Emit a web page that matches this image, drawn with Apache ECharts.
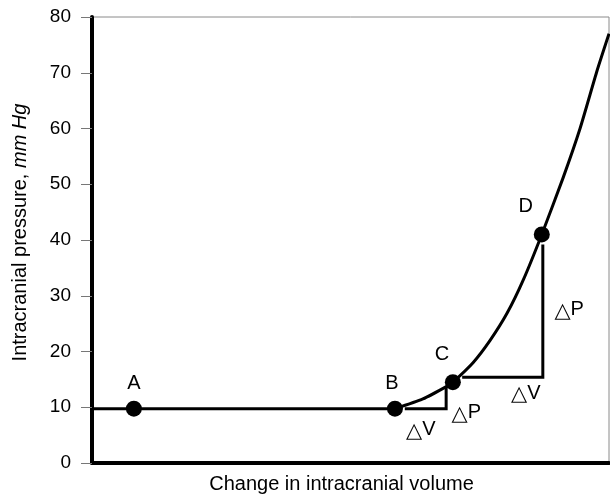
<!DOCTYPE html>
<html>
<head>
<meta charset="utf-8">
<script src="https://cdn.jsdelivr.net/npm/echarts@6/dist/echarts.min.js"></script>
<style>
  html, body { margin: 0; padding: 0; background: #fff; }
  #chart { width: 610px; height: 499px; }
</style>
</head>
<body>
<div id="chart"></div>
<script>
// Flat plateau of the pressure–volume relation (up to point B)
var plateauVolume   = [0, 58.6];
var plateauPressure = [9.75, 9.75];

// Accelerating rise from B upwards
var riseVolume   = [58.6, 64.0, 68.7, 69.8, 73.7, 77.0, 80.3, 83.4, 87.0, 91.1, 94.4, 97.7, 100];
var risePressure = [9.75, 11.5, 13.8, 14.5, 18.0, 22.0, 26.9, 32.8, 41.0, 51.1, 60.0, 70.4, 77.0];

// Labelled points on the curve
var pointNames    = ['A', 'B', 'C', 'D'];
var pointVolume   = [8.1, 58.6, 69.8, 87.0];
var pointPressure = [9.75, 9.75, 14.5, 41.0];

// Small ΔV/ΔP step between B and C
var smallStepVolume   = [60.5, 68.5, 68.5];
var smallStepPressure = [9.75, 9.75, 13.8];

// Large ΔV/ΔP step between C and D
var largeStepVolume   = [71.6, 87.2, 87.2];
var largeStepPressure = [15.4, 15.4, 39.2];

// Delta annotations: [volume, pressure, letter]
var deltaLabels = [
  [63.6, 6.0, 'V'],
  [72.4, 9.0, 'P'],
  [83.9, 12.5, 'V'],
  [92.3, 27.5, 'P']
];

var yTicks = [0, 10, 20, 30, 40, 50, 60, 70, 80];

function zip(xs, ys) {
  return xs.map(function (x, i) { return [x, ys[i]]; });
}

var fontFamily = '"Liberation Sans", Arial, Helvetica, sans-serif';

function pathSeries(xs, ys, smooth) {
  return {
    type: 'line',
    data: zip(xs, ys),
    smooth: smooth,
    showSymbol: false,
    lineStyle: { color: '#000', width: 3, cap: 'butt', join: 'miter' },
    z: 3
  };
}

var chart = echarts.init(document.getElementById('chart'), null, { renderer: 'canvas' });

chart.setOption({
  animation: false,
  backgroundColor: '#ffffff',
  textStyle: { fontFamily: fontFamily },
  grid: {
    left: 92, right: 1, top: 17, bottom: 31,
    show: true, borderColor: '#8a8a8a', borderWidth: 1
  },
  xAxis: {
    type: 'value', min: 0, max: 100,
    name: 'Change in intracranial volume',
    nameLocation: 'middle', nameGap: 11,
    nameTextStyle: { fontSize: 20, color: '#000', verticalAlign: 'top', padding: [0, 18, 0, 0] },
    axisLine: { show: true, onZero: false, lineStyle: { color: '#000', width: 4 } },
    axisTick: { show: false },
    axisLabel: { show: false },
    splitLine: { show: false }
  },
  yAxis: {
    type: 'value', min: yTicks[0], max: yTicks[yTicks.length - 1], interval: 10,
    name: '{n|Intracranial pressure, }{i|mm Hg}',
    nameLocation: 'middle', nameGap: 62, nameRotate: 90,
    nameTextStyle: {
      verticalAlign: 'bottom',
      padding: [0, 0, 0, 15],
      rich: {
        n: { fontSize: 20, color: '#000', fontFamily: fontFamily },
        i: { fontSize: 20, color: '#000', fontStyle: 'italic', fontFamily: fontFamily }
      }
    },
    axisLine: { show: true, onZero: false, lineStyle: { color: '#000', width: 4 } },
    axisTick: { show: true, inside: false, length: 11, lineStyle: { color: '#777', width: 1 } },
    axisLabel: { fontSize: 19, color: '#000', margin: 21 },
    splitLine: { show: false }
  },
  series: [
    pathSeries(plateauVolume, plateauPressure, false),
    pathSeries(riseVolume, risePressure, 0.2),
    pathSeries(smallStepVolume, smallStepPressure, false),
    pathSeries(largeStepVolume, largeStepPressure, false),
    {
      type: 'scatter',
      data: pointVolume.map(function (v, i) {
        return { value: [v, pointPressure[i]], name: pointNames[i] };
      }),
      symbol: 'circle',
      symbolSize: 16,
      itemStyle: { color: '#000', opacity: 1 },
      label: {
        show: true,
        formatter: function (p) { return p.name; },
        position: 'top',
        distance: 7,
        fontSize: 20,
        color: '#000'
      },
      labelLayout: function (params) {
        // C and D labels sit up and to the left of their points
        var n = pointNames[params.dataIndex];
        if (n === 'B') return { dx: -3 };
        if (n === 'C') return { dx: -11, dy: -3 };
        if (n === 'D') return { dx: -16, dy: -3 };
        return {};
      },
      z: 5
    },
    {
      type: 'scatter',
      data: deltaLabels.map(function (d) { return { value: [d[0], d[1]], letter: d[2] }; }),
      symbolSize: 0,
      itemStyle: { opacity: 1 },
      label: {
        show: true,
        position: 'inside',
        formatter: function (p) { return '{d|\u25B3}{t|' + p.data.letter + '}'; },
        rich: {
          d: { fontSize: 21, fontWeight: 'bold', color: '#000', fontFamily: '"DejaVu Sans", sans-serif', padding: [3, 0, 0, 0] },
          t: { fontSize: 20, color: '#000', fontFamily: fontFamily }
        }
      },
      z: 5
    }
  ]
});
</script>
</body>
</html>
